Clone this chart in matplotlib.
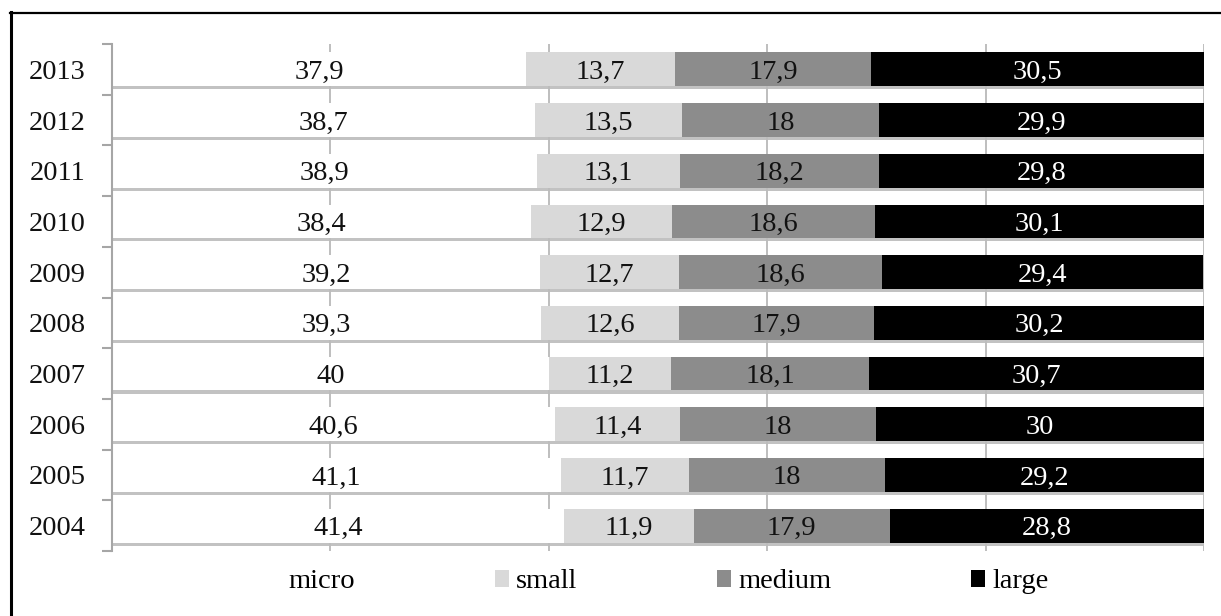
#!/usr/bin/env python3
# -*- coding: utf-8 -*-
"""
Barras horizontales apiladas al 100 %: reparto por tamaño de empresa (2004-2013).
"""
import matplotlib
matplotlib.use("Agg")
import matplotlib.pyplot as plt
import matplotlib.patheffects as pe
from matplotlib.lines import Line2D
from matplotlib.patches import Patch
import numpy as np

# Datos (de abajo a arriba)
years  = ["2004", "2005", "2006", "2007", "2008", "2009", "2010", "2011", "2012", "2013"]
micro  = [41.4, 41.1, 40.6, 40.0, 39.3, 39.2, 38.4, 38.9, 38.7, 37.9]
small  = [11.9, 11.7, 11.4, 11.2, 12.6, 12.7, 12.9, 13.1, 13.5, 13.7]
medium = [17.9, 18.0, 18.0, 18.1, 17.9, 18.6, 18.6, 18.2, 18.0, 17.9]
large  = [28.8, 29.2, 30.0, 30.7, 30.2, 29.4, 30.1, 29.8, 29.9, 30.5]
series_names = ["micro", "small", "medium", "large"]

colores = ["#ffffff", "#d9d9d9", "#8c8c8c", "#000000"]
colores_txt = ["#111111", "#111111", "#111111", "#ffffff"]
FUENTE = "Liberation Serif"
FS = 20.5

plt.rcParams["font.family"] = [FUENTE, "DejaVu Serif"]

fig = plt.figure(figsize=(12.21, 6.16), dpi=100)
ax = fig.add_axes([112 / 1221, 1 - 551 / 616, 1092 / 1221, 507 / 616])

y = np.arange(len(years))
sombra = [pe.SimplePatchShadow(offset=(0.8, -2.2), shadow_rgbFace="#bcbcbc", alpha=0.9),
          pe.Normal()]

izq = np.zeros(len(years))
for nombre, vals, col, ctxt in zip(series_names, [micro, small, medium, large], colores, colores_txt):
    vals = np.asarray(vals, dtype=float)
    ax.barh(y, vals, left=izq, height=0.667, color=col, edgecolor="none",
            zorder=2, path_effects=sombra)
    for yi, l, v in zip(y, izq, vals):
        txt = f"{v:g}".replace(".", ",")
        ax.text(l + v / 2, yi, txt, ha="center", va="center_baseline", fontsize=FS,
                color=ctxt, zorder=4)
    izq = izq + vals

ax.set_xlim(0, 100)
ax.set_ylim(-0.5, len(years) - 0.5)
ax.set_xticks(np.arange(0, 101, 20))
ax.set_xticklabels([])
ax.tick_params(axis="x", length=0)
ax.grid(axis="x", color="#b3b3b3", linewidth=1.2, zorder=0)
ax.set_axisbelow(True)

ax.set_yticks(y)
ax.set_yticklabels(years, fontsize=FS, color="#111111", va="center_baseline")
ax.set_yticks(np.arange(-0.5, len(years), 1.0), minor=True)
ax.tick_params(axis="y", which="major", length=0, pad=19)
ax.tick_params(axis="y", which="minor", length=7, width=1.5, color="#a6a6a6")

for s in ["top", "right", "bottom"]:
    ax.spines[s].set_visible(False)
ax.spines["left"].set_color("#a6a6a6")
ax.spines["left"].set_linewidth(1.5)

# leyenda sin sombra
handles = [Patch(facecolor=c, edgecolor="none") for c in colores]
fig.legend(handles=handles, labels=series_names, loc="center",
           bbox_to_anchor=(658 / 1221, 1 - 582 / 616), ncol=4, frameon=False,
           fontsize=FS, handlelength=0.5, handleheight=0.5, handletextpad=0.25,
           columnspacing=4.9, borderpad=0)

# marco del gráfico (solo se ven los bordes superior e izquierdo)
fig.add_artist(Line2D([11 / 1221, 11 / 1221], [0, 1 - 12 / 616], color="black",
                      linewidth=2.2, transform=fig.transFigure))
fig.add_artist(Line2D([10 / 1221, 1], [1 - 13 / 616, 1 - 13 / 616], color="black",
                      linewidth=1.6, transform=fig.transFigure))

fig.savefig("out.png", dpi=100, facecolor="white")
